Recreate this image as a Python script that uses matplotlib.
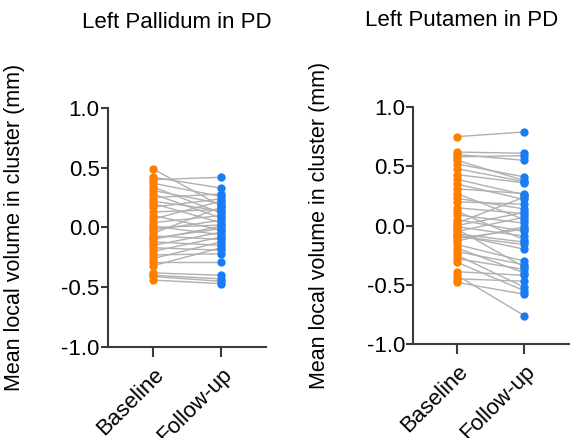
import matplotlib
matplotlib.use("Agg")
import matplotlib.pyplot as plt

plt.rcParams['font.family'] = ['Liberation Sans', 'DejaVu Sans']

groups = ["Baseline", "Follow-up"]
ylabel = "Mean local volume in cluster (mm)"

# Left Pallidum in PD (paired values per subject)
pallidum_base = [0.49, 0.42, 0.40, 0.37, 0.34, 0.31, 0.28, 0.25, 0.20, 0.17,
                 0.13, 0.10, 0.07, 0.04, 0.01, -0.02, -0.05, -0.07, -0.10, -0.12,
                 -0.15, -0.17, -0.20, -0.23, -0.26, -0.29, -0.32, -0.38, -0.41, -0.44,
                 -0.40, 0.00, -0.09, 0.22]
pallidum_follow = [0.18, 0.33, 0.42, 0.26, 0.12, 0.20, 0.08, 0.28, 0.04, 0.24,
                   0.15, -0.02, 0.22, 0.10, -0.06, 0.06, 0.17, -0.10, 0.01, -0.15,
                   -0.04, -0.19, -0.08, -0.22, -0.12, -0.29, -0.17, -0.40, -0.45, -0.47,
                   -0.43, 0.02, -0.01, 0.14]

# Left Putamen in PD
putamen_base = [0.75, 0.62, 0.60, 0.58, 0.55, 0.52, 0.48, 0.43, 0.39, 0.35,
                0.31, 0.27, 0.23, 0.20, 0.15, 0.12, 0.09, 0.05, 0.02, -0.01,
                -0.03, -0.05, -0.07, -0.09, -0.11, -0.13, -0.16, -0.19, -0.22, -0.25,
                -0.28, -0.31, -0.39, -0.42, -0.45, -0.48, -0.08, 0.00]
putamen_follow = [0.79, 0.61, 0.55, 0.59, 0.38, 0.41, 0.37, 0.36, 0.26, 0.22,
                  0.27, 0.05, 0.14, 0.18, 0.10, -0.12, 0.02, -0.05, 0.24, -0.09,
                  -0.35, 0.07, -0.14, -0.16, -0.03, -0.01, -0.30, -0.40, -0.33, -0.52,
                  -0.37, -0.55, -0.42, -0.76, -0.47, -0.58, -0.20, 0.11]

orange = "#FF7F00"
blue = "#1A7CF5"
axis_col = "#3a3a3a"
fs = 16

fig = plt.figure(figsize=(5.7, 4.38), dpi=100)


def panel(rect, base, follow, xlim, label_x):
    ax = fig.add_axes(rect)
    for b, f in zip(base, follow):
        ax.plot([1, 2], [b, f], color="#b0b0b0", lw=1.0, zorder=1)
    ax.plot([1] * len(base), base, "o", color=orange, ms=6, mec="none", zorder=2)
    ax.plot([2] * len(follow), follow, "o", color=blue, ms=6, mec="none", zorder=2)
    ax.set_ylim(-1, 1)
    ax.set_xlim(*xlim)
    ax.set_yticks([-1.0, -0.5, 0.0, 0.5, 1.0])
    ax.set_yticklabels(["-1.0", "-0.5", "0.0", "0.5", "1.0"])
    ax.set_xticks([1, 2])
    ax.set_xticklabels(groups, rotation=45, ha="right", rotation_mode="anchor")
    for s in ["top", "right"]:
        ax.spines[s].set_visible(False)
    for s in ["left", "bottom"]:
        ax.spines[s].set_color(axis_col)
        ax.spines[s].set_linewidth(1.5)
    ax.tick_params(axis="y", length=5, width=1.5, color=axis_col, labelsize=fs, pad=1)
    ax.tick_params(axis="x", length=7, width=1.5, color=axis_col, labelsize=fs, pad=5)
    ax.set_ylabel(ylabel, fontsize=15.5)
    ax.yaxis.set_label_coords(label_x, 0.5)
    return ax


ax1 = panel([0.1895, 0.2078, 0.277, 0.5457], pallidum_base, pallidum_follow,
            (0.34, 2.66), -0.525)
ax2 = panel([0.7254, 0.2146, 0.2746, 0.541], putamen_base, putamen_follow,
            (0.355, 2.68), -0.533)

fig.text(177 / 570, 1 - 22 / 438, "Left Pallidum in PD", ha="center", va="center", fontsize=fs)
fig.text(462 / 570, 1 - 20 / 438, "Left Putamen in PD", ha="center", va="center", fontsize=fs)

fig.savefig("out.png", dpi=100)
